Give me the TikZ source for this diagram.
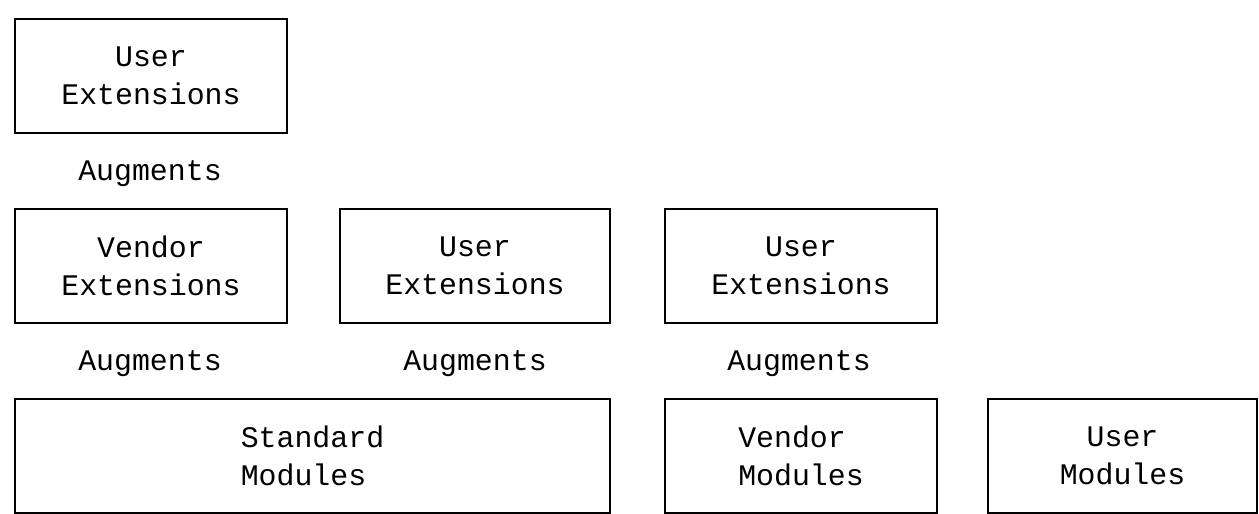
\documentclass[tikz,border=0pt]{standalone}
\usepackage{fontspec}
\setmonofont{Liberation Mono}

\begin{document}
\begin{tikzpicture}[x=0.02cm, y=-0.02cm,
	main/.style={rectangle, draw=black, line width=1.1pt, minimum width=5.44cm, minimum height=2.28cm, inner sep=0pt, align=center, font=\ttfamily\fontsize{17}{21.6}\selectfont},
	aug/.style={inner sep=0pt, font=\ttfamily\fontsize{17}{21.6}\selectfont}
	]
	\useasboundingbox (0,0) rectangle (1259,514);

		\node (userext) [main] at (151,76) {User\\Extensions};
		\node (augone) [aug] at (150,174) {Augments};

			\node (vendorext) [main] at (151,266) {Vendor\\Extensions};
			\node (userexttwo) [main, minimum width=5.4cm] at (475,266) {User\\Extensions};
			\node (userextthree) [main] at (801,266) {User\\Extensions};

			\node (augtwo) [aug] at (150,364) {Augments};
			\node (augthree) [aug] at (475,364) {Augments};
			\node (augfour) [aug] at (799,364) {Augments};

				\node (stdmod) [main, minimum width=11.9cm, align=left] at (312.5,456) {Standard\\Modules};
				\node (vendormod) [main, align=left] at (801,456) {Vendor\\Modules};
				\node (usermod) [main, minimum width=5.38cm] at (1122.5,456) {User\\Modules};

	\end{tikzpicture}
\end{document}
